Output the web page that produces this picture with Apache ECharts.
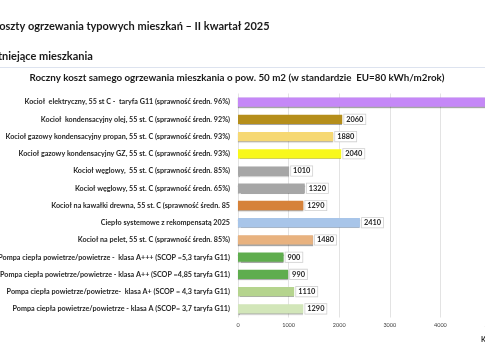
<!DOCTYPE html>
<html><head><meta charset="utf-8">
<script src="https://cdn.jsdelivr.net/npm/echarts@6/dist/echarts.min.js"></script>
<style>html,body{margin:0;padding:0;background:#fff;overflow:hidden;width:485px;height:360px}#c{width:600px;height:360px}</style>
</head><body><div id="c"></div>
<script>
const categories = [
  "Kocioł  elektryczny, 55 st C -  taryfa G11 (sprawność średn. 96%)",
  "Kocioł  kondensacyjny olej, 55 st. C (sprawność średn. 92%)",
  "Kocioł gazowy kondensacyjny propan, 55 st. C (sprawność średn. 93%)",
  "Kocioł gazowy kondensacyjny GZ, 55 st. C (sprawność średn. 93%)",
  "Kocioł węglowy,  55 st. C (sprawność średn. 85%)",
  "Kocioł węglowy, 55 st. C (sprawność średn. 65%)",
  "Kocioł na kawałki drewna, 55 st. C (sprawność średn. 85",
  "Ciepło systemowe z rekompensatą 2025",
  "Kocioł na pelet, 55 st. C (sprawność średn. 85%)",
  "Pompa ciepła powietrze/powietrze -  klasa A+++ (SCOP =5,3 taryfa G11)",
  "Pompa ciepła powietrze/powietrze - klasa A++ (SCOP =4,85 taryfa G11)",
  "Pompa ciepła powietrze/powietrze-  klasa A+ (SCOP = 4,3 taryfa G11)",
  "Pompa ciepła powietrze/powietrze - klasa A (SCOP= 3,7 taryfa G11)"
];
const values = [4880, 2060, 1880, 2040, 1010, 1320, 1290, 2410, 1480, 900, 990, 1110, 1290];
const barColors = ["#c588f7", "#b58e1b", "#f6d873", "#f8f81c", "#a6a6a6", "#a6a6a6", "#d6823a", "#a8c5e9", "#e8b27f", "#5fad4e", "#5fad4e", "#b5d48e", "#d2e6b9"];
const xTicks = [0, 1000, 2000, 3000, 4000, 5000, 6000];

const chart = echarts.init(document.getElementById('c'));
const F = 'Lato, "Open Sans", sans-serif';
chart.setOption({
  animation: false,
  grid: {left: 238, top: 93.5, width: 303.6, height: 224, containLabel: false, outerBoundsMode: 'none'},
  xAxis: {
    type: 'value', min: xTicks[0], max: xTicks[xTicks.length - 1], interval: 1000,
    axisLine: {show: false}, axisTick: {show: false},
    splitLine: {lineStyle: {color: '#e3e3e3', width: 1}},
    axisLabel: {fontSize: 5.5, color: '#404040', fontFamily: F, margin: 5, formatter: v => String(v)}
  },
  yAxis: {
    type: 'category', data: categories, inverse: true,
    axisLine: {show: false}, axisTick: {show: false},
    axisLabel: {fontSize: 7.2, fontWeight: 'bold', color: '#262626', fontFamily: F, margin: 8}
  },
  series: [{
    type: 'bar', barCategoryGap: '46%',
    data: values.map((v, i) => ({value: v, itemStyle: {color: barColors[i]}})),
    itemStyle: {shadowColor: 'rgba(0,0,0,0.35)', shadowOffsetY: 1, shadowBlur: 1},
    label: {
      show: true, position: 'right', distance: 2,
      fontSize: 7.4, fontWeight: 'bold', color: '#262626', fontFamily: F,
      backgroundColor: '#fff', borderColor: '#d0d0d0', borderWidth: 0.8,
      padding: [1.5, 2, 1, 2]
    }
  }],
  graphic: [
    {type: 'text', left: -8, top: 21, style: {text: 'Koszty ogrzewania typowych mieszkań – II kwartał 2025', font: 'bold 11px ' + F, fill: '#1a1a1a'}},
    {type: 'text', left: -10, top: 51, style: {text: 'Istniejące mieszkania', font: 'bold 11px ' + F, fill: '#1a1a1a'}},
    {type: 'rect', shape: {x: 0, y: 67, width: 600, height: 1}, style: {fill: '#dde3ef'}},
    {type: 'text', x: 237, y: 73, style: {text: 'Roczny koszt samego ogrzewania mieszkania o pow. 50 m2 (w standardzie  EU=80 kWh/m2rok)', font: 'bold 9.8px ' + F, fill: '#1a1a1a', align: 'center'}},
    {type: 'text', left: 481, top: 336, style: {text: 'Koszt roczny [zł]', font: 'bold 7px ' + F, fill: '#262626'}}
  ]
});
</script></body></html>
